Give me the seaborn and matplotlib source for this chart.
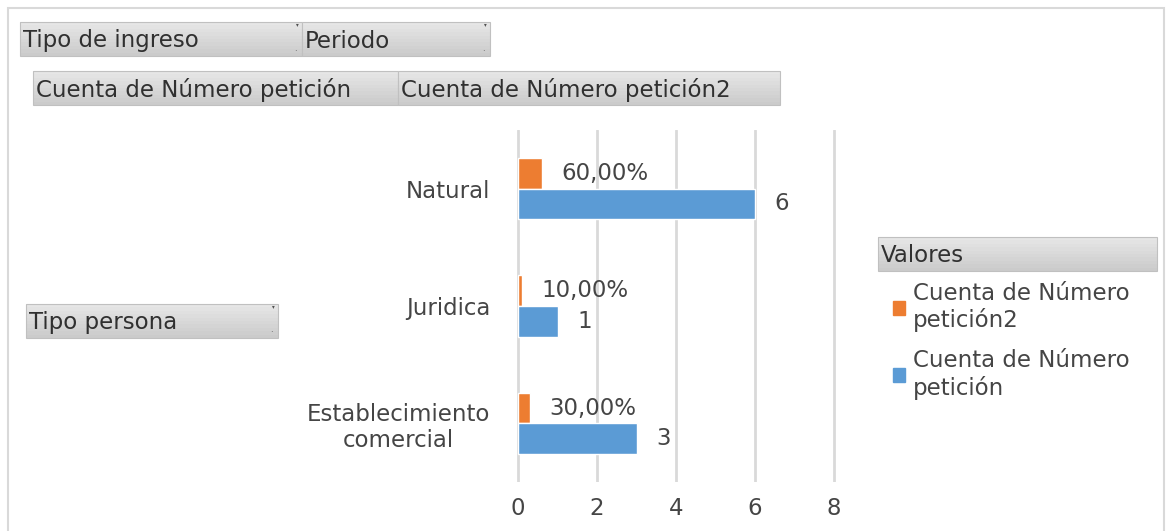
import numpy as np
import pandas as pd
import seaborn as sns
import matplotlib.pyplot as plt
from matplotlib.patches import Rectangle, Patch
from matplotlib.colors import to_rgb

# Data
categorias = ['Natural', 'Juridica', 'Establecimiento\ncomercial']
cuenta = [6, 1, 3]
cuenta_pct = [0.60, 0.10, 0.30]
serie1 = 'Cuenta de Número petición2'
serie2 = 'Cuenta de Número petición'

W, H = 1170, 531
col_orange = '#ED7D31'
col_blue = '#5B9BD5'
txt_col = '#454545'
fs = 16.5

df = pd.DataFrame({
    'Tipo persona': categorias * 2,
    'valor': cuenta_pct + cuenta,
    'serie': [serie1] * 3 + [serie2] * 3,
})

sns.set_theme(style='white')
plt.rcParams['font.family'] = ['DejaVu Sans']

fig = plt.figure(figsize=(W / 100, H / 100), dpi=100)


def fx(x):
    return x / W


def fy(y):
    return 1 - y / H


# chart frame
fig.add_artist(Rectangle((fx(8), fy(540)), fx(1164) - fx(8), fy(8) - fy(540),
                         transform=fig.transFigure, fill=False,
                         edgecolor='#d9d9d9', lw=1.5))

# axes: 0 at x=518, 8 at x=834
unit = (834 - 518) / 8
pad = 0.1
left = 518 - pad * unit
right = 834 + pad * unit
ax = fig.add_axes([fx(left), fy(482), fx(right) - fx(left), fy(130) - fy(482)])

sns.barplot(data=df, y='Tipo persona', x='valor', hue='serie', orient='h',
            hue_order=[serie1, serie2], order=categorias,
            palette=[col_orange, col_blue], width=0.52, saturation=1,
            legend=False, ax=ax)

ax.set_xlim(-pad, 8 + pad)
ax.set_ylim(2.5, -0.5)
ax.set_xticks([0, 2, 4, 6, 8])
ax.xaxis.grid(True, color='#d9d9d9', lw=2)
ax.set_axisbelow(True)
for s in ax.spines.values():
    s.set_visible(False)
ax.set_xlabel('')
ax.set_ylabel('')
ax.tick_params(axis='x', length=0, pad=11, labelsize=fs, labelcolor=txt_col)
ax.tick_params(axis='y', length=0, pad=17, labelsize=fs, labelcolor=txt_col)
for t in ax.get_yticklabels():
    t.set_multialignment('center')

# data labels
for cont, fmt in zip(ax.containers, ['pct', 'num']):
    for bar in cont:
        v = bar.get_width()
        lab = f'{v * 100:.2f}%'.replace('.', ',') if fmt == 'pct' else f'{v:g}'
        ax.annotate(lab, (v, bar.get_y() + bar.get_height() / 2),
                    xytext=(14, 0), textcoords='offset points',
                    ha='left', va='center', fontsize=fs, color=txt_col)


# pivot field buttons (gray gradient)
def button(x0, y0, x1, y1, text, arrow=True):
    n = 10
    c_top = np.array(to_rgb('#e6e6e6'))
    c_bot = np.array(to_rgb('#cbcbcb'))
    hb = (y1 - y0) / n
    for i in range(n):
        c = c_top + (c_bot - c_top) * i / (n - 1)
        fig.add_artist(Rectangle((fx(x0), fy(y0 + (i + 1) * hb)), fx(x1) - fx(x0),
                                 fy(y0 + i * hb) - fy(y0 + (i + 1) * hb),
                                 transform=fig.transFigure, facecolor=c,
                                 edgecolor='none', lw=0))
    fig.add_artist(Rectangle((fx(x0), fy(y1)), fx(x1) - fx(x0), fy(y0) - fy(y1),
                             transform=fig.transFigure, fill=False,
                             edgecolor='#c0c0c0', lw=0.8))
    fig.text(fx(x0 + 3), fy((y0 + y1) / 2 + 2), text, fontsize=fs,
             color='#303030', ha='left', va='center')
    if arrow:
        fig.text(fx(x1 - 3), fy(y0 + 3), '▾', fontsize=4, color='#505050',
                 ha='right', va='center')
        fig.text(fx(x1 - 5), fy(y1 - 8), '.', fontsize=6, color='#505050',
                 ha='right', va='center')


button(20, 22, 302, 56, 'Tipo de ingreso')
button(302, 22, 490, 56, 'Periodo')
button(33, 71, 398, 105, 'Cuenta de Número petición', arrow=False)
button(398, 71, 780, 105, 'Cuenta de Número petición2', arrow=False)
button(26, 304, 278, 338, 'Tipo persona')
button(878, 237, 1157, 271, 'Valores', arrow=False)

# legend
handles = [Patch(color=col_orange), Patch(color=col_blue)]
labels = ['Cuenta de Número\npetición2', 'Cuenta de Número\npetición']
fig.legend(handles, labels, loc='upper left',
           bbox_to_anchor=(fx(872), fy(261)), frameon=False,
           fontsize=fs, labelcolor=txt_col, handlelength=0.55,
           handleheight=0.55, handletextpad=0.35, labelspacing=0.72)

fig.savefig('out.png', dpi=100)
